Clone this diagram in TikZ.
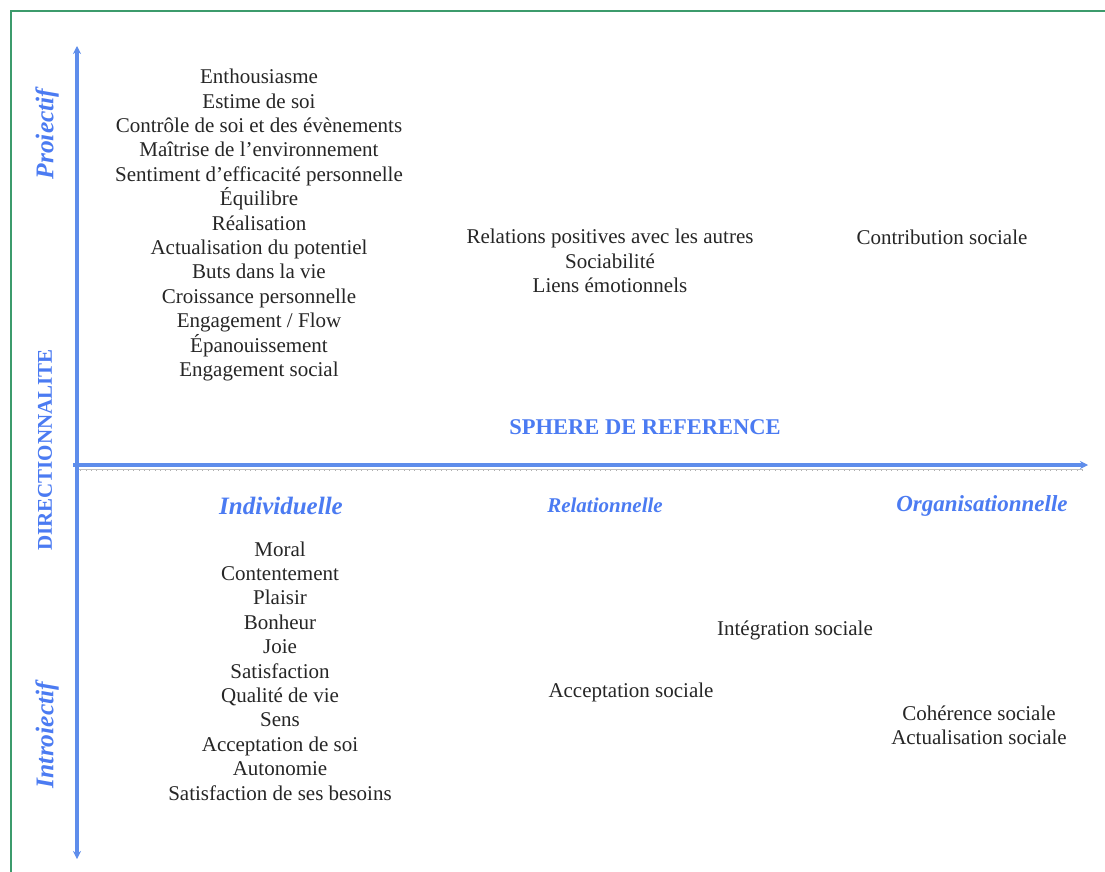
\documentclass[tikz,border=0pt]{standalone}
\usepackage{fontspec}
\setmainfont{Liberation Serif}
\usetikzlibrary{arrows.meta}
\definecolor{frame}{HTML}{3C9B6C}
\definecolor{axis}{HTML}{5E8DEB}
\definecolor{lbl}{HTML}{4B7BF2}
\definecolor{ruler}{HTML}{B0B0B0}
\tikzset{
  item/.style={align=center, font=\fontsize{21}{24.4}\selectfont, text=black!85, inner sep=0pt},
  sphere/.style={font=\bfseries\itshape\fontsize{22}{26}\selectfont, text=lbl, inner sep=0pt},
  side/.style={rotate=90, font=\bfseries\itshape\fontsize{25.5}{28}\selectfont, text=lbl, inner sep=0pt},
  axisline/.style={draw=axis, line width=3.6pt, -{Stealth[length=8pt,width=8pt]}}
}
\begin{document}
\begin{tikzpicture}[x=1pt,y=-1pt]
\useasboundingbox (0,0) rectangle (1105,872);
\fill[white] (0,0) rectangle (1105,872);
% frame
\draw[frame, line width=2pt] (11,880) -- (11,11) -- (1120,11);
% axes
\coordinate (vtop) at (77,46);
\coordinate (vbot) at (77,859);
\coordinate (vmid) at (77,465);
\coordinate (hleft) at (73,465);
\coordinate (hright) at (1088,465);
\coordinate (rl) at (75,469.5);
\coordinate (rr) at (1083,469.5);
\draw[ruler, line width=2pt, dash pattern=on 0.8pt off 4.5pt] (rl) -- (rr);
\draw[ruler!80, line width=0.8pt] (rl) -- (rr);
\draw[axisline] (vmid) -- (vtop);
\draw[axisline] (vmid) -- (vbot);
\draw[axisline] (hleft) -- (hright);
% side labels
\node[side] (proj) at (47,134) {Proiectif};
\node[rotate=90, font=\bfseries\fontsize{21}{24}\selectfont, text=lbl, inner sep=0pt] (dir) at (45,450) {DIRECTIONNALITE};
\node[side] (intro) at (47,735) {Introiectif};
% sphere
\node[font=\bfseries\fontsize{22.5}{26}\selectfont, text=lbl, inner sep=0pt] (sph) at (645,427) {SPHERE DE REFERENCE};
\node[sphere, font=\bfseries\itshape\fontsize{25}{28}\selectfont] (ind) at (281,506) {Individuelle};
\node[sphere, font=\bfseries\itshape\fontsize{21}{24}\selectfont] (rel) at (605,505) {Relationnelle};
\node[sphere, font=\bfseries\itshape\fontsize{23}{26}\selectfont] (org) at (982,506) {Organisationnelle};
% top items
\node[item] (tl) at (259,225) {Enthousiasme\\Estime de soi\\Contrôle de soi et des évènements\\Maîtrise de l'environnement\\Sentiment d'efficacité personnelle\\Équilibre\\Réalisation\\Actualisation du potentiel\\Buts dans la vie\\Croissance personnelle\\Engagement / Flow\\Épanouissement\\Engagement social};
\node[item] (tm) at (610,261) {Relations positives avec les autres\\Sociabilité\\Liens émotionnels};
\node[item] (tr) at (942,237) {Contribution sociale};
% bottom items
\node[item] (bl) at (280,671) {Moral\\Contentement\\Plaisir\\Bonheur\\Joie\\Satisfaction\\Qualité de vie\\Sens\\Acceptation de soi\\Autonomie\\Satisfaction de ses besoins};
\node[item] (bm1) at (795,630) {Intégration sociale};
\node[item] (bm2) at (631,692) {Acceptation sociale};
\node[item] (br) at (979,725) {Cohérence sociale\\Actualisation sociale};
\end{tikzpicture}
\end{document}
